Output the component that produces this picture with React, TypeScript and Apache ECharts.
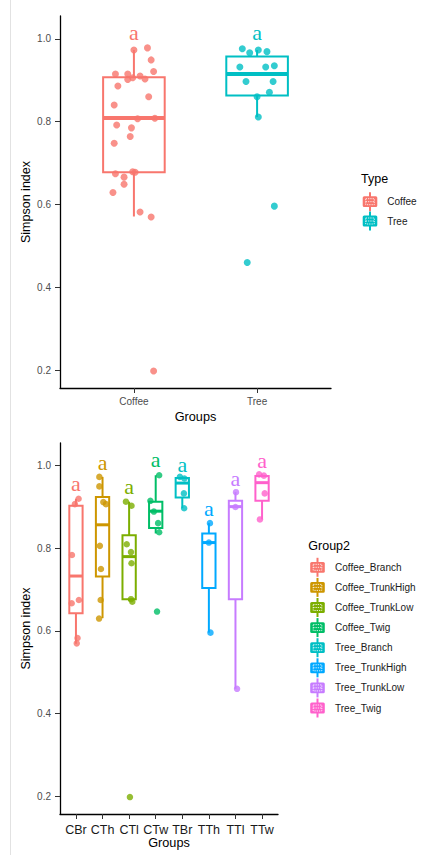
import React, { useEffect, useRef } from "react";
import * as echarts from "echarts";

// ---------- Data: top panel (by Type) ----------
const typeCats = ["Coffee", "Tree"];
const typeColors = ["#F8766D", "#00BFC4"];
// [lower whisker, Q1, median, Q3, upper whisker]
const typeBoxes = [
  [0.571, 0.678, 0.809, 0.907, 0.973],
  [0.811, 0.863, 0.915, 0.957, 0.973],
];
const typeLetters = ["a", "a"];
const typeLetterY = [1.014, 1.014];
const coffeeValues = [
  0.973, 0.978, 0.949, 0.921, 0.915, 0.915, 0.91, 0.903, 0.902, 0.906, 0.886, 0.86, 0.84, 0.807,
  0.808, 0.792, 0.785, 0.764, 0.748, 0.674, 0.679, 0.678, 0.666, 0.649, 0.629, 0.582, 0.57, 0.198,
];
const coffeeJitter = [
  0.0, 0.11, 0.14, 0.16, -0.15, -0.05, 0.05, 0.09, -0.05, -0.01, -0.13, 0.12, -0.16, 0.03, 0.17,
  -0.14, -0.02, -0.03, -0.16, -0.15, -0.01, 0.01, -0.08, -0.08, -0.17, 0.05, 0.14, 0.16,
];
const treeValues = [
  0.976, 0.966, 0.973, 0.969, 0.932, 0.932, 0.935, 0.897, 0.897, 0.871, 0.86, 0.811, 0.596, 0.46,
];
const treeJitter = [
  -0.12, -0.06, 0.01, 0.08, -0.14, 0.07, 0.14, -0.09, 0.13, 0.1, 0.0, 0.01, 0.14, -0.08,
];
const typeValues = [coffeeValues, treeValues];
const typeJitter = [coffeeJitter, treeJitter];

// ---------- Data: bottom panel (by Group2) ----------
const groupCodes = ["CBr", "CTh", "CTl", "CTw", "TBr", "TTh", "TTl", "TTw"];
const groupNames = [
  "Coffee_Branch",
  "Coffee_TrunkHigh",
  "Coffee_TrunkLow",
  "Coffee_Twig",
  "Tree_Branch",
  "Tree_TrunkHigh",
  "Tree_TrunkLow",
  "Tree_Twig",
];
const groupColors = ["#F8766D", "#CD9600", "#7CAE00", "#00BE67", "#00BFC4", "#00A9FF", "#C77CFF", "#FF61CC"];
const groupBoxes = [
  [0.569, 0.643, 0.733, 0.903, 0.92],
  [0.631, 0.732, 0.857, 0.924, 0.973],
  [0.672, 0.677, 0.78, 0.832, 0.913],
  [0.836, 0.849, 0.89, 0.913, 0.977],
  [0.897, 0.923, 0.958, 0.97, 0.973],
  [0.596, 0.704, 0.814, 0.836, 0.861],
  [0.46, 0.677, 0.901, 0.915, 0.936],
  [0.87, 0.915, 0.959, 0.975, 0.979],
];
const groupLetters = ["a", "a", "a", "a", "a", "a", "a", "a"];
const groupLetterY = [0.957, 1.007, 0.949, 1.014, 1.004, 0.897, 0.97, 1.012];
const groupValues = [
  [0.92, 0.907, 0.784, 0.667, 0.675, 0.583, 0.57],
  [0.973, 0.95, 0.912, 0.907, 0.806, 0.75, 0.675, 0.63],
  [0.913, 0.903, 0.81, 0.791, 0.764, 0.677, 0.671, 0.198],
  [0.977, 0.915, 0.889, 0.861, 0.839, 0.647],
  [0.973, 0.969, 0.933, 0.897],
  [0.861, 0.814, 0.596],
  [0.936, 0.9, 0.46],
  [0.979, 0.976, 0.933, 0.87],
];
const groupJitter = [
  [0.1, -0.04, -0.15, -0.16, 0.11, 0.06, 0.03],
  [-0.12, -0.12, 0.03, 0.13, -0.1, -0.06, -0.07, -0.13],
  [-0.12, 0.09, -0.09, 0.07, 0.09, 0.07, 0.12, 0.03],
  [0.13, -0.2, -0.07, 0.09, 0.13, 0.05],
  [-0.09, 0.08, 0.06, 0.07],
  [0.04, 0.0, 0.06],
  [0.02, 0.0, 0.06],
  [-0.11, 0.07, 0.1, -0.08],
];

const yTicks = [0.2, 0.4, 0.6, 0.8, 1.0];
const yMin = 0.157;
const yMax = 1.055;

const SANS = "'Liberation Sans', Arial, sans-serif";
const SERIF = "'Liberation Serif', 'Times New Roman', serif";

function makeBoxRender(letters: string[], lw: number, mw: number, letterSize: number) {
  return (params: any, api: any) => {
    const x = api.value(0);
    const lo = api.coord([x, api.value(1)]);
    const q1 = api.coord([x, api.value(2)]);
    const md = api.coord([x, api.value(3)]);
    const q3 = api.coord([x, api.value(4)]);
    const hi = api.coord([x, api.value(5)]);
    const lab = api.coord([x, api.value(6)]);
    const half = api.size([0.5, 0])[0] / 2;
    const color = api.visual("color");
    return {
      type: "group",
      children: [
        { type: "line", shape: { x1: lo[0], y1: lo[1], x2: q1[0], y2: q1[1] }, style: { stroke: color, lineWidth: lw } },
        { type: "line", shape: { x1: q3[0], y1: q3[1], x2: hi[0], y2: hi[1] }, style: { stroke: color, lineWidth: lw } },
        {
          type: "rect",
          shape: { x: q3[0] - half, y: q3[1], width: half * 2, height: q1[1] - q3[1] },
          style: { fill: "#ffffff", stroke: color, lineWidth: lw },
        },
        {
          type: "line",
          shape: { x1: md[0] - half, y1: md[1], x2: md[0] + half, y2: md[1] },
          style: { stroke: color, lineWidth: mw },
        },
        {
          type: "text",
          x: lab[0],
          y: lab[1],
          style: {
            text: letters[params.dataIndex] ?? letters[0],
            fill: color,
            font: `${letterSize}px ${SERIF}`,
            align: "center",
            verticalAlign: "middle",
          },
        },
      ],
    };
  };
}

// legend key drawn like ggplot's boxplot key
function legendKey(cx: number, cy: number, color: string, label: string, textX: number) {
  return {
    type: "group",
    silent: true,
    children: [
      { type: "rect", shape: { x: cx - 1, y: cy - 9.5, width: 2, height: 19 }, style: { fill: color } },
      { type: "rect", shape: { x: cx - 7.3, y: cy - 5.4, width: 14.6, height: 10.8, r: 1.5 }, style: { fill: color } },
      {
        type: "rect",
        shape: { x: cx - 4.3, y: cy - 3, width: 8.6, height: 6 },
        style: { fill: "none", stroke: "#ffffff", lineWidth: 0.8, lineDash: [1.3, 1] },
      },
      {
        type: "line",
        shape: { x1: cx - 4.3, y1: cy, x2: cx + 4.3, y2: cy },
        style: { stroke: "#ffffff", lineWidth: 0.8, lineDash: [1.3, 1] },
      },
      {
        type: "text",
        x: textX,
        y: cy,
        style: { text: label, font: `10px ${SANS}`, fill: "#1a1a1a", align: "left", verticalAlign: "middle" },
      },
    ],
  };
}

function buildOption() {
  const series: any[] = [];

  typeCats.forEach((c, i) => {
    series.push({
      type: "custom",
      name: c,
      xAxisIndex: 0,
      yAxisIndex: 0,
      itemStyle: { color: typeColors[i] },
      renderItem: makeBoxRender([typeLetters[i]], 2, 4, 22),
      encode: { x: 0, y: [1, 2, 3, 4, 5] },
      data: [[i + 1, ...typeBoxes[i], typeLetterY[i]]],
      z: 2,
    });
  });
  typeCats.forEach((c, i) => {
    series.push({
      type: "scatter",
      name: c,
      xAxisIndex: 0,
      yAxisIndex: 0,
      symbolSize: 7,
      itemStyle: { color: typeColors[i], opacity: 0.8 },
      data: typeValues[i].map((v, k) => [i + 1 + typeJitter[i][k], v]),
      z: 3,
    });
  });

  groupNames.forEach((g, i) => {
    series.push({
      type: "custom",
      name: g,
      xAxisIndex: 1,
      yAxisIndex: 1,
      itemStyle: { color: groupColors[i] },
      renderItem: makeBoxRender([groupLetters[i]], 2, 3, 22),
      encode: { x: 0, y: [1, 2, 3, 4, 5] },
      data: [[i + 1, ...groupBoxes[i], groupLetterY[i]]],
      z: 2,
    });
  });
  groupNames.forEach((g, i) => {
    series.push({
      type: "scatter",
      name: g,
      xAxisIndex: 1,
      yAxisIndex: 1,
      symbolSize: 6.5,
      itemStyle: { color: groupColors[i], opacity: 0.8 },
      data: groupValues[i].map((v, k) => [i + 1 + groupJitter[i][k], v]),
      z: 3,
    });
  });

  const axisLine = { show: true, lineStyle: { color: "#000000", width: 1.3 } };
  const axisTickBase = { show: true, length: 5, lineStyle: { color: "#333333", width: 1 } };

  const makeY = (gridIndex: number) => ({
    type: "value",
    gridIndex,
    min: yMin,
    max: yMax,
    axisLine,
    axisTick: { ...axisTickBase, customValues: yTicks },
    axisLabel: {
      customValues: yTicks,
      formatter: (v: number) => v.toFixed(1),
      fontFamily: SANS,
      fontSize: 10,
      color: "#4d4d4d",
      margin: 9,
    },
    splitLine: { show: false },
  });

  const graphics: any[] = [
    {
      type: "line",
      shape: { x1: 10.5, y1: 0, x2: 10.5, y2: 855 },
      style: { stroke: "#e2e2e2", lineWidth: 1 },
      silent: true,
    },
    {
      type: "text",
      x: 26,
      y: 202,
      rotation: Math.PI / 2,
      style: { text: "Simpson index", font: `12.5px ${SANS}`, fill: "#000000", align: "center", verticalAlign: "middle" },
    },
    {
      type: "text",
      x: 26,
      y: 628.5,
      rotation: Math.PI / 2,
      style: { text: "Simpson index", font: `12.5px ${SANS}`, fill: "#000000", align: "center", verticalAlign: "middle" },
    },
    {
      type: "text",
      x: 361,
      y: 179.3,
      style: { text: "Type", font: `12.5px ${SANS}`, fill: "#000000", verticalAlign: "middle" },
    },
    {
      type: "text",
      x: 308.3,
      y: 545.7,
      style: { text: "Group2", font: `12.5px ${SANS}`, fill: "#000000", verticalAlign: "middle" },
    },
  ];
  typeCats.forEach((c, i) => graphics.push(legendKey(370, 201.7 + i * 19.3, typeColors[i], c, 387.3)));
  groupNames.forEach((g, i) => graphics.push(legendKey(317.5, 567.3 + i * 20.1, groupColors[i], g, 335)));

  return {
    animation: false,
    backgroundColor: "#ffffff",
    grid: [
      { left: 60, top: 16, width: 271, height: 372 },
      { left: 60, top: 443, width: 218, height: 371 },
    ],
    xAxis: [
      {
        type: "value",
        gridIndex: 0,
        min: 0.4,
        max: typeCats.length + 0.6,
        name: "Groups",
        nameLocation: "middle",
        nameGap: 22,
        nameTextStyle: { fontFamily: SANS, fontSize: 12.7, color: "#000000", verticalAlign: "top" },
        axisLine,
        axisTick: { ...axisTickBase, customValues: typeCats.map((_, i) => i + 1) },
        axisLabel: {
          customValues: typeCats.map((_, i) => i + 1),
          formatter: (v: number) => typeCats[Math.round(v) - 1],
          fontFamily: SANS,
          fontSize: 10,
          color: "#4d4d4d",
          margin: 8,
        },
        splitLine: { show: false },
      },
      {
        type: "value",
        gridIndex: 1,
        min: 0.4,
        max: groupCodes.length + 0.6,
        name: "Groups",
        nameLocation: "middle",
        nameGap: 22,
        nameTextStyle: { fontFamily: SANS, fontSize: 12.7, color: "#000000", verticalAlign: "top" },
        axisLine,
        axisTick: { ...axisTickBase, customValues: groupCodes.map((_, i) => i + 1) },
        axisLabel: {
          customValues: groupCodes.map((_, i) => i + 1),
          formatter: (v: number) => groupCodes[Math.round(v) - 1],
          fontFamily: SANS,
          fontSize: 12.5,
          color: "#1a1a1a",
          margin: 9,
        },
        splitLine: { show: false },
      },
    ],
    yAxis: [makeY(0), makeY(1)],
    graphic: graphics,
    series,
  };
}

export default function App() {
  const ref = useRef<HTMLDivElement>(null);
  useEffect(() => {
    if (!ref.current) return;
    const chart = echarts.init(ref.current, undefined, { renderer: "svg" });
    chart.setOption(buildOption() as any);
    return () => chart.dispose();
  }, []);
  return (
    <div style={{ position: "fixed", left: 0, top: 0, width: 428, height: 855, background: "#ffffff" }}>
      <div ref={ref} style={{ width: 428, height: 855 }} />
    </div>
  );
}
